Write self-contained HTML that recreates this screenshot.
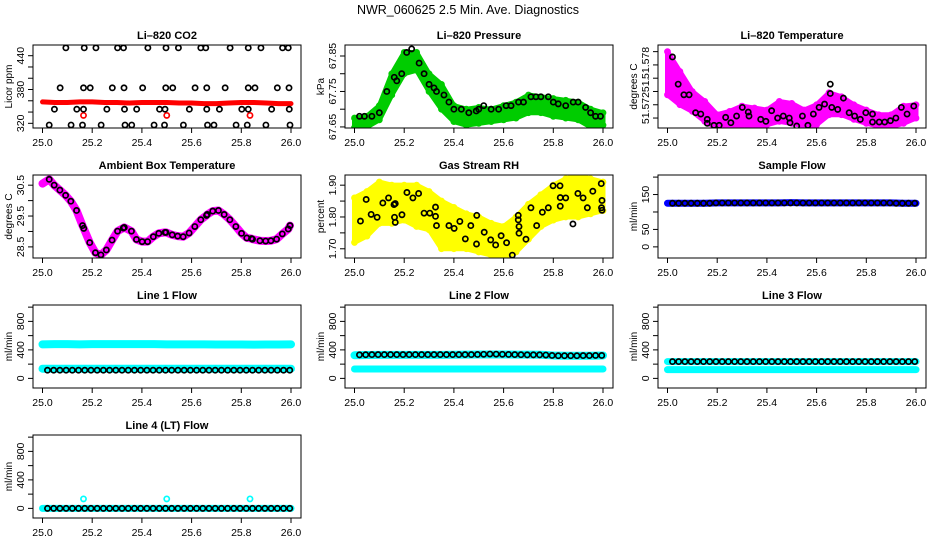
<!DOCTYPE html>
<html><head><meta charset="utf-8"><style>
html,body{margin:0;padding:0;background:#fff;width:936px;height:540px;overflow:hidden}
svg{display:block;font-family:"Liberation Sans",sans-serif}
</style></head><body>
<svg id="c" width="936" height="540" xmlns="http://www.w3.org/2000/svg">
<text x="468" y="14" text-anchor="middle" font-size="12.5">NWR_060625  2.5 Min. Ave. Diagnostics</text>
</svg>
<script>
// ---- data ----
const xTicks=[25.0,25.2,25.4,25.6,25.8,26.0];
const xTickLabels=["25.0","25.2","25.4","25.6","25.8","26.0"];
const grid21=[25.0,25.05,25.1,25.15,25.2,25.25,25.3,25.35,25.4,25.45,25.5,25.55,25.6,25.65,25.7,25.75,25.8,25.85,25.9,25.95,26.0];
// CO2
const co2RedBand=[358,357,357,358,358,357,357,356,357,357,357,356,356,355,355,356,357,357,356,355,355];
const co2RedOutX=[25.165,25.5,25.835];
const co2RedOutY=[334,334,334];
const co2BlkX=[25.094,25.168,25.215,25.302,25.326,25.424,25.497,25.547,25.637,25.657,25.755,25.828,25.879,25.966,25.989,
25.071,25.165,25.192,25.281,25.328,25.403,25.496,25.524,25.614,25.661,25.735,25.828,25.855,25.945,25.992,
25.048,25.138,25.165,25.259,25.330,25.379,25.471,25.493,25.591,25.661,25.712,25.802,25.828,25.922,25.993,
25.027,25.115,25.161,25.236,25.332,25.359,25.449,25.491,25.567,25.664,25.690,25.779,25.824,25.899,25.996];
const co2BlkY=[454,454,454,454,454,454,454,454,454,454,454,454,454,454,454,
383,383,383,383,383,383,383,383,383,383,383,383,383,383,383,
345,345,345,345,345,345,345,345,345,345,345,345,345,345,345,
317,317,317,317,317,317,317,317,317,317,317,317,317,317,317];
// Pressure
const presGreenHi=[67.675,67.68,67.71,67.80,67.86,67.86,67.80,67.77,67.71,67.70,67.705,67.70,67.71,67.72,67.74,67.735,67.73,67.725,67.72,67.70,67.69];
const presGreenLo=[67.648,67.65,67.67,67.74,67.80,67.81,67.75,67.70,67.665,67.655,67.66,67.665,67.67,67.675,67.69,67.69,67.68,67.675,67.67,67.65,67.655];
const presBlkX=[25.02,25.04,25.07,25.1,25.13,25.16,25.17,25.19,25.21,25.23,25.26,25.28,25.3,25.32,25.33,25.36,25.38,25.4,25.43,25.46,25.49,25.5,25.52,25.55,25.58,25.61,25.63,25.66,25.68,25.71,25.73,25.75,25.78,25.8,25.82,25.85,25.88,25.9,25.93,25.95,25.97,25.99];
const presBlkY=[67.68,67.68,67.68,67.69,67.75,67.79,67.78,67.80,67.86,67.87,67.83,67.80,67.77,67.76,67.75,67.74,67.72,67.70,67.70,67.69,67.695,67.70,67.71,67.70,67.70,67.71,67.71,67.72,67.72,67.735,67.735,67.735,67.735,67.72,67.715,67.71,67.72,67.72,67.705,67.69,67.68,67.68];
// Li-820 temperature
const tempMagHi=[51.5800,51.5770,51.5740,51.5725,51.5705,51.5710,51.5718,51.5715,51.5712,51.5725,51.5722,51.5712,51.5720,51.5738,51.5732,51.5720,51.5712,51.5705,51.5705,51.5718,51.5720];
const tempMagLo=[51.5735,51.5720,51.5710,51.5695,51.5685,51.5686,51.5690,51.5688,51.5690,51.5695,51.5692,51.5688,51.5690,51.5705,51.5705,51.5698,51.5692,51.5688,51.5687,51.5692,51.5700];
const tempBlkX=[25.020,25.043,25.066,25.087,25.113,25.134,25.160,25.160,25.187,25.208,25.234,25.255,25.278,25.301,25.325,25.328,25.375,25.396,25.419,25.443,25.466,25.490,25.493,25.520,25.543,25.565,25.587,25.610,25.632,25.655,25.655,25.661,25.685,25.708,25.731,25.753,25.776,25.798,25.825,25.825,25.852,25.874,25.897,25.919,25.941,25.964,25.991];
const tempBlkY=[51.5792,51.5751,51.5735,51.5735,51.5708,51.5706,51.5698,51.5692,51.5689,51.5689,51.5701,51.5693,51.5703,51.5716,51.5709,51.5703,51.5698,51.5695,51.5711,51.5700,51.5703,51.5700,51.5693,51.5688,51.5703,51.5689,51.5706,51.5716,51.5721,51.5751,51.5737,51.5716,51.5713,51.5730,51.5708,51.5703,51.5698,51.5708,51.5706,51.5694,51.5694,51.5694,51.5696,51.5700,51.5716,51.5706,51.5718];
// Ambient box temperature
const ambX=[25.0,25.027,25.047,25.070,25.093,25.114,25.137,25.161,25.166,25.190,25.213,25.235,25.257,25.280,25.302,25.325,25.329,25.358,25.378,25.401,25.423,25.446,25.468,25.493,25.497,25.522,25.544,25.566,25.590,25.613,25.637,25.660,25.663,25.685,25.708,25.731,25.754,25.778,25.801,25.822,25.841,25.845,25.875,25.898,25.919,25.942,25.965,25.989,25.996];
const ambY=[30.55,30.69,30.50,30.34,30.17,29.98,29.68,29.19,29.10,28.64,28.31,28.24,28.40,28.72,29.01,29.11,29.13,29.01,28.74,28.67,28.67,28.83,28.94,28.97,28.97,28.89,28.85,28.83,28.95,29.16,29.38,29.52,29.55,29.66,29.68,29.55,29.38,29.16,28.94,28.79,28.77,28.75,28.70,28.69,28.70,28.75,28.92,29.08,29.19];
// Gas stream RH
const rhYelHi=[1.86,1.88,1.91,1.90,1.90,1.90,1.88,1.85,1.83,1.81,1.80,1.78,1.77,1.80,1.84,1.87,1.90,1.92,1.93,1.92,1.91];
const rhYelLo=[1.72,1.74,1.78,1.78,1.79,1.77,1.76,1.70,1.70,1.70,1.69,1.68,1.67,1.69,1.73,1.77,1.79,1.80,1.80,1.81,1.82];
const rhBlkX=[25.024,25.047,25.067,25.091,25.114,25.137,25.159,25.164,25.161,25.164,25.191,25.211,25.235,25.258,25.280,25.303,25.326,25.326,25.330,25.380,25.401,25.424,25.446,25.468,25.491,25.492,25.522,25.548,25.568,25.590,25.612,25.635,25.659,25.659,25.662,25.662,25.690,25.710,25.733,25.756,25.780,25.799,25.827,25.828,25.828,25.850,25.879,25.899,25.920,25.937,25.959,25.993,25.994,25.996,25.996];
const rhBlkY=[1.787,1.855,1.808,1.799,1.844,1.860,1.839,1.842,1.799,1.783,1.807,1.877,1.860,1.874,1.812,1.812,1.831,1.802,1.773,1.773,1.764,1.786,1.731,1.773,1.715,1.805,1.752,1.728,1.712,1.741,1.719,1.680,1.805,1.791,1.749,1.770,1.730,1.829,1.773,1.815,1.829,1.898,1.898,1.861,1.834,1.860,1.778,1.874,1.860,1.829,1.881,1.905,1.829,1.821,1.852];
// Flows (black = 2.5 min averages, cyan/blue = raw)
const sampleBlue=[125,125,125,125,126,126,126,126,126,126,127,126,126,126,126,126,126,126,126,125,125];
const sampleBlack=[125,125,125,125,125,125,125,126,126,126,126,126,126,126,126,126,126,126,126,126,126,126,126,126,126,126,126,126,126,126,126,126,126,126,126,126,125,125,125,125];
const line1CyanHi=[478,480,480,478,480,480,480,480,480,480,478,478,478,478,476,476,476,474,476,476,478];
const line1CyanLo=[136,136,136,136,136,136,136,136,136,136,136,136,136,136,136,136,136,136,136,136,136];
const line1Black=[115,115,115,115,115,115,115,115,115,115,115,115,115,115,115,115,115,115,115,115,115,115,115,115,115,115,115,115,115,115,115,115,115,115,115,115,115,115,115,115];
const line2CyanHi=[325,328,330,330,330,330,330,330,332,334,336,336,335,334,333,332,322,318,318,318,322];
const line2CyanLo=[132,132,132,132,132,132,132,132,132,132,132,132,132,132,132,132,132,132,132,132,132];
const line2Black=[330,332,334,334,334,334,334,334,334,334,334,334,334,334,334,334,334,334,334,336,338,342,340,338,336,334,332,330,330,330,328,322,318,318,318,318,320,320,322,322];
const line3CyanHi=[236,236,236,236,236,236,236,236,236,236,236,236,236,236,236,236,236,236,236,236,236];
const line3CyanLo=[123,123,123,123,123,123,123,123,123,123,123,123,123,123,123,123,123,123,123,123,123];
const line3Black=[236,236,236,236,236,236,236,236,236,236,236,236,236,236,236,236,236,236,236,236,236,236,236,236,236,236,236,236,236,236,236,236,236,236,236,236,236,236,236,236];
const line4Cyan=[0,0,0,0,0,0,0,0,0,0,0,0,0,0,0,0,0,0,0,0,0];
const line4CyanOutX=[25.165,25.5,25.835];
const line4CyanOutY=[133,133,133];
const line4Black=[0,0,0,0,0,0,0,0,0,0,0,0,0,0,0,0,0,0,0,0,0,0,0,0,0,0,0,0,0,0,0,0,0,0,0,0,0,0,0,0];

// ---- drawing ----
const NS="http://www.w3.org/2000/svg";
const svg=document.getElementById('c');
function mk(tag,attrs,parent){const e=document.createElementNS(NS,tag);for(const k in attrs)e.setAttribute(k,attrs[k]);(parent||svg).appendChild(e);return e;}
const blackX=[];for(let i=0;i<40;i++)blackX.push(25.02+i*0.025);

function panel(col,row,cfg){
  const off=col*312+(col===2?1:0), top=[45,175,305,435][row], H=83;
  const L=off+33, R=off+301;
  const g=mk('g',{});
  
  
  const sx=v=>off+42.5+(v-25)*248.5;
  const sy=v=>top+H*(cfg.yTop-v)/(cfg.yTop-cfg.yBot);
  const cp=mk('clipPath',{id:'cp'+col+row},g);
  mk('rect',{x:L,y:top,width:R-L,height:H},cp);
  const plot=mk('g',{'clip-path':'url(#cp'+col+row+')'},g);
  
  
  const t=mk('text',{x:(L+R)/2,y:top-6,'text-anchor':'middle','font-size':'11','font-weight':'bold'},g);
  t.textContent=cfg.title;
  
  
  const yt=mk('text',{x:0,y:0,transform:`translate(${off+12},${top+H/2}) rotate(-90)`,'text-anchor':'middle','font-size':'10'},g);
  yt.textContent=cfg.ytitle;
  
  
  const xa=mk('g',{stroke:'#000','stroke-width':1},g);
  
  
  xTicks.forEach((v,i)=>{
    mk('line',{x1:sx(v),x2:sx(v),y1:top+H,y2:top+H+5},xa);
    const tl=mk('text',{x:sx(v),y:top+H+18,'text-anchor':'middle','font-size':'10.5',stroke:'none'},xa);
    tl.textContent=xTickLabels[i];
    
    
  });
  const ya=mk('g',{stroke:'#000','stroke-width':1},g);
  
  
  cfg.yTicks.forEach(v=>{mk('line',{x1:L-5,x2:L,y1:sy(v),y2:sy(v)},ya);});
  cfg.yLabels.forEach((s,i)=>{
    const tl=mk('text',{x:0,y:0,transform:`translate(${L-9},${sy(cfg.yLabelVals[i])}) rotate(-90)`,'text-anchor':'middle','font-size':'10.5',stroke:'none'},ya);
    tl.textContent=s;
    
    
  });
  mk('rect',{x:L,y:top,width:R-L,height:H,fill:'none',stroke:'#000','stroke-width':1},g);
  return {plot,sx,sy};
}
function pts(p,xs,ys,color,name,r,w){
  const g=mk('g',{fill:'none',stroke:color,'stroke-width':w||1.7},p.plot);
  
  
  xs.forEach((x,i)=>{mk('circle',{cx:p.sx(x),cy:p.sy(ys[i]),r:r||2.6},g);});
}
function band(p,xs,hi,lo,color,name){
  const g=mk('g',{},p.plot);
  
  
  let d='M'+xs.map((x,i)=>p.sx(x)+','+p.sy(hi[i])).join('L');
  d+='L'+xs.slice().reverse().map((x,j)=>{const i=xs.length-1-j;return p.sx(x)+','+p.sy(lo[i]);}).join('L')+'Z';
  mk('path',{d,fill:color,stroke:color,'stroke-width':5,'stroke-linejoin':'round'},g);
  xs.forEach((x,i)=>{
    mk('circle',{cx:p.sx(x),cy:p.sy(hi[i]),r:2.6,fill:'none',stroke:color,'stroke-width':1.6},g);
    mk('circle',{cx:p.sx(x),cy:p.sy(lo[i]),r:2.6,fill:'none',stroke:color,'stroke-width':1.6},g);
  });
}
function thickLine(p,xs,ys,color,name,w){
  const g=mk('g',{},p.plot);
  
  
  mk('path',{d:'M'+xs.map((x,i)=>p.sx(x)+','+p.sy(ys[i])).join('L'),fill:'none',stroke:color,'stroke-width':w,'stroke-linejoin':'round','stroke-linecap':'round'},g);
}
const flowCfg=(name,title)=>({name,title,ytitle:'ml/min',yBot:-135,yTop:1030,yTicks:[0,200,400,600,800,1000],yLabels:['0','400','800'],yLabelVals:[0,400,800]});

let p=panel(0,0,{name:'co2',title:'Li\u2013820 CO2',ytitle:'Licor ppm',yBot:311.7,yTop:459,yTicks:[320,340,360,380,400,420,440],yLabels:['320','380','440'],yLabelVals:[320,380,440]});
thickLine(p,grid21,co2RedBand,'#ff0000','co2-raw-series',5);
pts(p,co2RedOutX,co2RedOutY,'#ff0000','co2-raw-outliers');
pts(p,co2BlkX,co2BlkY,'#000','co2-average-points');

p=panel(1,0,{name:'pressure',title:'Li\u2013820 Pressure',ytitle:'kPa',yBot:67.647,yTop:67.881,yTicks:[67.65,67.70,67.75,67.80,67.85],yLabels:['67.65','67.75','67.85'],yLabelVals:[67.65,67.75,67.85]});
band(p,grid21,presGreenHi,presGreenLo,'#00cc00','pressure-raw-series');
pts(p,presBlkX,presBlkY,'#000','pressure-average-points');

p=panel(2,0,{name:'li820-temperature',title:'Li\u2013820 Temperature',ytitle:'degrees C',yBot:51.5685,yTop:51.5810,yTicks:[51.570,51.572,51.574,51.576,51.578,51.580],yLabels:['51.572','51.','51.578'],yLabelVals:[51.5715,51.5750,51.5783]});
band(p,grid21,tempMagHi,tempMagLo,'#ff00ff','temperature-raw-series');
pts(p,tempBlkX,tempBlkY,'#000','temperature-average-points');

p=panel(0,1,{name:'ambient-temperature',title:'Ambient Box Temperature',ytitle:'degrees C',yBot:28.14,yTop:30.83,yTicks:[28.5,29.0,29.5,30.0,30.5],yLabels:['28.5','29.5','30.5'],yLabelVals:[28.5,29.5,30.5]});
thickLine(p,ambX,ambY,'#ff00ff','ambient-raw-series',8);
pts(p,ambX.slice(1),ambY.slice(1),'#000','ambient-average-points');

p=panel(1,1,{name:'gas-rh',title:'Gas Stream RH',ytitle:'percent',yBot:1.671,yTop:1.932,yTicks:[1.70,1.75,1.80,1.85,1.90],yLabels:['1.70','1.80','1.90'],yLabelVals:[1.70,1.80,1.90]});
band(p,grid21,rhYelHi,rhYelLo,'#ffff00','rh-raw-series');
pts(p,rhBlkX,rhBlkY,'#000','rh-average-points');

p=panel(2,1,{name:'sample-flow',title:'Sample Flow',ytitle:'ml/min',yBot:-31.9,yTop:206,yTicks:[0,50,100,150,200],yLabels:['0','50','150'],yLabelVals:[0,50,150]});
thickLine(p,grid21,sampleBlue,'#0000ff','sample-raw-series',7);
pts(p,blackX,sampleBlack,'#000','sample-average-points');

p=panel(0,2,flowCfg('line1-flow','Line 1 Flow'));
thickLine(p,grid21,line1CyanHi,'#00ffff','line1-raw-high',8);
thickLine(p,grid21,line1CyanLo,'#00ffff','line1-raw-low',8);
pts(p,blackX,line1Black,'#000','line1-average-points');
p=panel(1,2,flowCfg('line2-flow','Line 2 Flow'));
thickLine(p,grid21,line2CyanHi,'#00ffff','line2-raw-high',8);
thickLine(p,grid21,line2CyanLo,'#00ffff','line2-raw-low',7);
pts(p,blackX,line2Black,'#000','line2-average-points');
p=panel(2,2,flowCfg('line3-flow','Line 3 Flow'));
thickLine(p,grid21,line3CyanHi,'#00ffff','line3-raw-high',7);
thickLine(p,grid21,line3CyanLo,'#00ffff','line3-raw-low',7);
pts(p,blackX,line3Black,'#000','line3-average-points');
p=panel(0,3,flowCfg('line4-flow','Line 4 (LT) Flow'));
thickLine(p,grid21,line4Cyan,'#00ffff','line4-raw-series',7);
pts(p,line4CyanOutX,line4CyanOutY,'#00ffff','line4-raw-outliers');
pts(p,blackX,line4Black,'#000','line4-average-points');
</script>
</body></html>
